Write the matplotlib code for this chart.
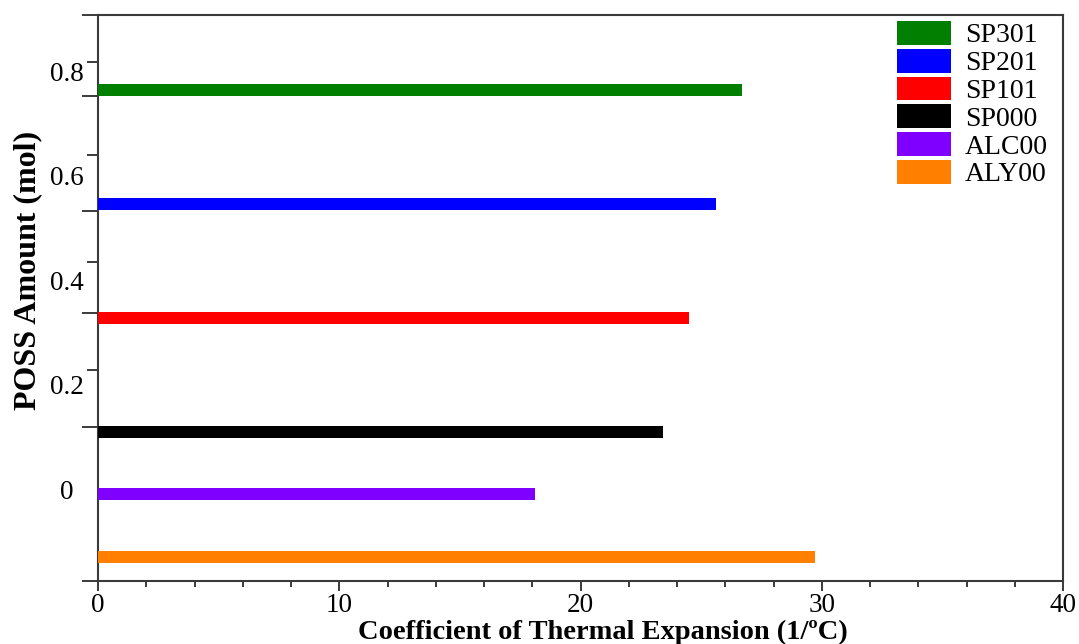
import matplotlib
matplotlib.use("Agg")
import matplotlib.pyplot as plt
from matplotlib.transforms import blended_transform_factory

# --- data -------------------------------------------------------------
samples = ["SP301", "SP201", "SP101", "SP000", "ALC00", "ALY00"]
cte_values = [26.7, 25.6, 24.5, 23.4, 18.1, 29.7]
bar_colors = ["#007f00", "#0000ff", "#ff0000", "#000000", "#7f00ff", "#ff7f00"]
poss_tick_labels = ["0", "0.2", "0.4", "0.6", "0.8"]
poss_tick_values = [0.0, 0.2, 0.4, 0.6, 0.8]

# --- layout -----------------------------------------------------------
bar_centers = [0.769, 0.551, 0.333, 0.115, -0.004, -0.124]
bar_thickness = 0.023
y_limits = (-0.170, 0.913)
long_ticks = [-0.170, 0.124, 0.343, 0.538, 0.758, 0.913]
short_ticks = [0.234, 0.440, 0.645, 0.823]

plt.rcParams["font.family"] = ["Liberation Serif", "DejaVu Serif"]
spine_color = "#3a3a3a"

fig = plt.figure(figsize=(10.79, 6.44), dpi=100)
ax = fig.add_axes([98 / 1079, 1 - 581 / 644, 965 / 1079, 566 / 644])

for name, val, col, yc in zip(samples, cte_values, bar_colors, bar_centers):
    ax.barh(yc, val, height=bar_thickness, color=col, label=name,
            edgecolor="none", zorder=3)

ax.set_xlim(0, 40)
ax.set_ylim(*y_limits)

# x axis: labelled majors every 10, minors every 2, pointing outward
ax.set_xticks([0, 10, 20, 30, 40])
ax.set_xticks(range(0, 41, 2), minor=True)
ax.tick_params(axis="x", which="major", direction="out", length=7,
               width=1.4, color=spine_color, labelsize=19.5, pad=2)
ax.tick_params(axis="x", which="minor", direction="out", length=4,
               width=1.4, color=spine_color)

# y axis: unlabelled tick marks, the POSS values are written separately
ax.set_yticks(long_ticks)
ax.set_yticks(short_ticks, minor=True)
ax.set_yticklabels([])
ax.tick_params(axis="y", which="major", direction="out", length=11.5,
               width=1.4, color=spine_color)
ax.tick_params(axis="y", which="minor", direction="out", length=8,
               width=1.4, color=spine_color)

trans = blended_transform_factory(ax.transAxes, ax.transData)
for lab, val in zip(poss_tick_labels, poss_tick_values):
    ax.text(-0.032, val, lab, transform=trans, ha="center", va="center",
            fontsize=19.5)

for sp in ax.spines.values():
    sp.set_color(spine_color)
    sp.set_linewidth(1.5)

ax.set_xlabel("Coefficient of Thermal Expansion (1/ºC)", fontsize=20.5,
              fontweight="bold")
ax.xaxis.set_label_coords(0.523, -0.068)
fig.text(28 / 1079, 1 - 270 / 644, "POSS Amount (mol)", rotation=90,
         ha="center", va="center", fontsize=23, fontweight="bold")

ax.legend(loc="upper left", bbox_to_anchor=(897 / 1079, 1 - 21 / 644),
          bbox_transform=fig.transFigure, frameon=False, fontsize=20,
          borderpad=0, borderaxespad=0, handlelength=1.94,
          handleheight=0.935, handletextpad=0.5, labelspacing=0.015)

fig.savefig("out.png", dpi=100, facecolor="white")
